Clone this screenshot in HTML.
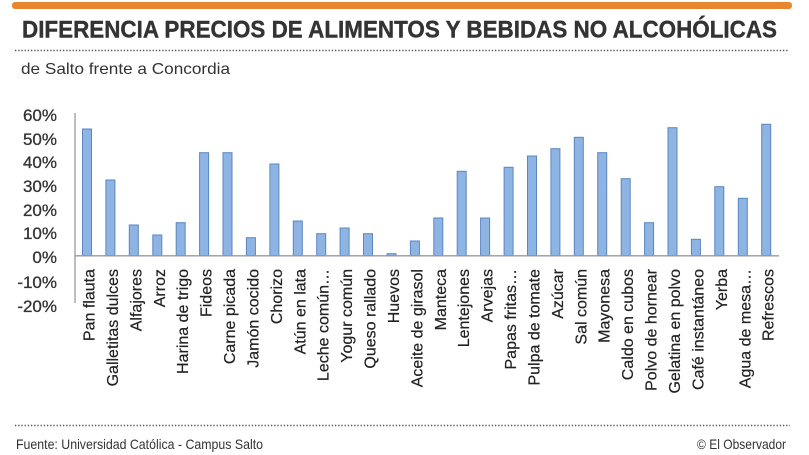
<!DOCTYPE html>
<html>
<head>
<meta charset="utf-8">
<style>
html,body{margin:0;padding:0;background:#fff;}
svg{display:block;}
text{font-family:"Liberation Sans",sans-serif;}
</style>
</head>
<body>
<svg width="809" height="455" viewBox="0 0 809 455" xmlns="http://www.w3.org/2000/svg">
<rect x="0" y="0" width="809" height="455" fill="#ffffff"/>
<rect x="12" y="2" width="780" height="7" rx="3" fill="#E8862F"/>
<text x="22" y="37.5" font-size="24" font-weight="bold" fill="#333" stroke="#333" stroke-width="0.4" textLength="755" lengthAdjust="spacingAndGlyphs">DIFERENCIA PRECIOS DE ALIMENTOS Y BEBIDAS NO ALCOHÓLICAS</text>
<line x1="15" y1="50.5" x2="789" y2="50.5" stroke="#555" stroke-width="1.6" stroke-dasharray="1.3 1.9"/>
<text x="21" y="74" font-size="16" fill="#333" textLength="209" lengthAdjust="spacingAndGlyphs">de Salto frente a Concordia</text>

<g font-size="17" fill="#333" stroke="#333" stroke-width="0.3" text-anchor="end">
<text x="57" y="121">60%</text>
<text x="57" y="145">50%</text>
<text x="57" y="168">40%</text>
<text x="57" y="192">30%</text>
<text x="57" y="216">20%</text>
<text x="57" y="239">10%</text>
<text x="57" y="263">0%</text>
<text x="57" y="288">-10%</text>
<text x="57" y="312">-20%</text>
</g>

<line x1="75" y1="113" x2="75" y2="303" stroke="#9a9a9a" stroke-width="1.3"/>

<g fill="#8EB4E3" stroke="#5B86C0" stroke-width="1">
<rect x="82.5" y="129" width="9" height="126.5"/>
<rect x="105.9" y="180" width="9" height="75.5"/>
<rect x="129.3" y="225" width="9" height="30.5"/>
<rect x="152.8" y="235" width="9" height="20.5"/>
<rect x="176.2" y="222.7" width="9" height="32.8"/>
<rect x="199.6" y="152.7" width="9" height="102.8"/>
<rect x="223" y="152.7" width="9" height="102.8"/>
<rect x="246.4" y="237.7" width="9" height="17.8"/>
<rect x="269.9" y="164" width="9" height="91.5"/>
<rect x="293.3" y="221" width="9" height="34.5"/>
<rect x="316.7" y="233.7" width="9" height="21.8"/>
<rect x="340.1" y="228" width="9" height="27.5"/>
<rect x="363.5" y="233.7" width="9" height="21.8"/>
<rect x="387" y="253.7" width="9" height="1.8"/>
<rect x="410.4" y="241" width="9" height="14.5"/>
<rect x="433.8" y="218" width="9" height="37.5"/>
<rect x="457.2" y="171.3" width="9" height="84.2"/>
<rect x="480.6" y="218" width="9" height="37.5"/>
<rect x="504.1" y="167.3" width="9" height="88.2"/>
<rect x="527.5" y="156" width="9" height="99.5"/>
<rect x="550.9" y="148.7" width="9" height="106.8"/>
<rect x="574.3" y="137.3" width="9" height="118.2"/>
<rect x="597.7" y="152.7" width="9" height="102.8"/>
<rect x="621.2" y="178.7" width="9" height="76.8"/>
<rect x="644.6" y="222.7" width="9" height="32.8"/>
<rect x="668" y="127.7" width="9" height="127.8"/>
<rect x="691.4" y="239.3" width="9" height="16.2"/>
<rect x="714.8" y="186.7" width="9" height="68.8"/>
<rect x="738.3" y="198.3" width="9" height="57.2"/>
<rect x="761.7" y="124.3" width="9" height="131.2"/>
</g>

<line x1="75" y1="255.8" x2="779" y2="255.8" stroke="#9a9a9a" stroke-width="1.3"/>

<g font-size="16" fill="#222" stroke="#222" stroke-width="0.2" text-anchor="end">
<text transform="translate(94.5,269) rotate(-90)">Pan flauta</text>
<text transform="translate(117.9,269) rotate(-90)">Galletitas dulces</text>
<text transform="translate(141.3,269) rotate(-90)">Alfajores</text>
<text transform="translate(164.8,269) rotate(-90)">Arroz</text>
<text transform="translate(188.2,269) rotate(-90)">Harina de trigo</text>
<text transform="translate(211.6,269) rotate(-90)">Fideos</text>
<text transform="translate(235,269) rotate(-90)">Carne picada</text>
<text transform="translate(258.4,269) rotate(-90)">Jamón cocido</text>
<text transform="translate(281.9,269) rotate(-90)">Chorizo</text>
<text transform="translate(305.3,269) rotate(-90)">Atún en lata</text>
<text transform="translate(328.7,269) rotate(-90)">Leche común…</text>
<text transform="translate(352.1,269) rotate(-90)">Yogur común</text>
<text transform="translate(375.5,269) rotate(-90)">Queso rallado</text>
<text transform="translate(399,269) rotate(-90)">Huevos</text>
<text transform="translate(422.4,269) rotate(-90)">Aceite de girasol</text>
<text transform="translate(445.8,269) rotate(-90)">Manteca</text>
<text transform="translate(469.2,269) rotate(-90)">Lentejones</text>
<text transform="translate(492.6,269) rotate(-90)">Arvejas</text>
<text transform="translate(516.1,269) rotate(-90)">Papas fritas…</text>
<text transform="translate(539.5,269) rotate(-90)">Pulpa de tomate</text>
<text transform="translate(562.9,269) rotate(-90)">Azúcar</text>
<text transform="translate(586.3,269) rotate(-90)">Sal común</text>
<text transform="translate(609.7,269) rotate(-90)">Mayonesa</text>
<text transform="translate(633.2,269) rotate(-90)">Caldo en cubos</text>
<text transform="translate(656.6,269) rotate(-90)">Polvo de hornear</text>
<text transform="translate(680,269) rotate(-90)">Gelatina en polvo</text>
<text transform="translate(703.4,269) rotate(-90)">Café instantáneo</text>
<text transform="translate(726.8,269) rotate(-90)">Yerba</text>
<text transform="translate(750.3,269) rotate(-90)">Agua de mesa…</text>
<text transform="translate(773.7,269) rotate(-90)">Refrescos</text>
</g>

<line x1="15" y1="425.5" x2="790" y2="425.5" stroke="#555" stroke-width="1.6" stroke-dasharray="1.3 1.9"/>
<text x="16" y="449" font-size="14" fill="#333" textLength="247" lengthAdjust="spacingAndGlyphs">Fuente: Universidad Católica - Campus Salto</text>
<text x="697" y="449" font-size="14" fill="#333" textLength="89" lengthAdjust="spacingAndGlyphs">© El Observador</text>
</svg>
</body>
</html>
